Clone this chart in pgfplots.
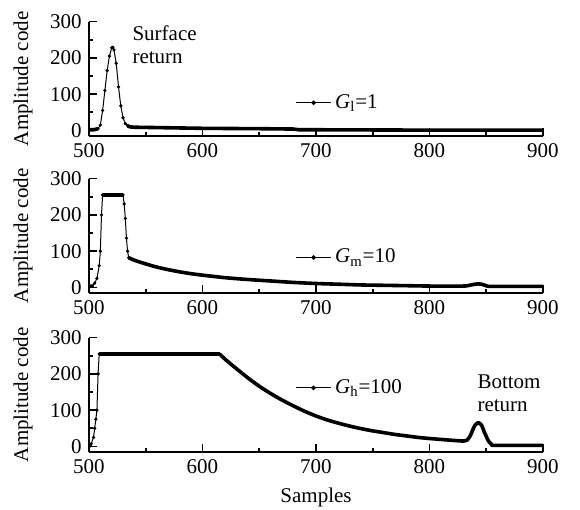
\documentclass[border=0pt]{standalone}
\usepackage{fontspec}
\setmainfont{Liberation Serif}
\usepackage{pgfplots}
\pgfplotsset{compat=1.18}
\pgfplotsset{
  panel/.style={
    scale only axis, width=227pt, height=57.2pt,
    xmin=500, xmax=900, ymin=-15, ymax=300,
    axis x line=bottom, axis y line=left,
    axis line style={-, line width=0.9pt},
    xtick={500,600,...,900}, minor xtick={550,650,750,850},
    ytick={0,100,200,300}, minor ytick={50,150,250},
    tick align=inside,
    major tick length=4pt, minor tick length=2pt,
    every tick/.style={black, line width=0.9pt},
    /pgf/number format/assume math mode=true,
    /pgf/number format/1000 sep={},
    tick label style={font=\fontsize{10.5}{12}\selectfont},
    ylabel={Amplitude code},
    ylabel style={at={(axis description cs:-0.145,0.5)}, anchor=center, font=\fontsize{10.5}{12}\selectfont},
    clip=false,
    legend style={draw=none, fill=none, anchor=west, inner sep=0pt,
      font=\fontsize{10.5}{12}\selectfont},
  },
  thin/.style={black, line width=0.5pt, mark=*, mark size=0.55pt, forget plot},
  thick/.style={black, line width=1.8pt, line join=round, no marks, forget plot},
}
\begin{document}
\fontsize{10.5}{11.5}\selectfont
\begin{tikzpicture}
\path[use as bounding box] (0,0) rectangle (290pt,255pt);
% Panel 1
\begin{axis}[panel, at={(44.5pt,189.75pt)}, anchor=origin,
  legend style={at={(axis description cs:0.455,0.29)}}]
\addplot[thick] coordinates {(500,2) (504,2) (508,5)};
\addplot[thin] coordinates {(508,5) (510,15) (512,55) (514,110) (516,165) (518,205) (520,228) (521,229) (522,222) (524,185) (526,120) (528,68) (530,35) (532,19) (534,13)};
\addplot[thick] coordinates {(534,13) (536,10) (540,9) (560,8) (600,6) (650,5) (680,4) (685,2) (700,2) (800,1) (900,1)};
\addlegendimage{black, line width=0.5pt, mark=*, mark size=0.9pt}
\addlegendentry{\textit{G}\textsubscript{l}=1}
\node[anchor=north west, align=left, inner sep=0pt, font=\fontsize{10.5}{11.5}\selectfont] at (axis cs:538,290) {Surface\\return};
\end{axis}
% Panel 2
\begin{axis}[panel, at={(44.5pt,111.25pt)}, anchor=origin,
  legend style={at={(axis description cs:0.455,0.31)}}]
\addplot[thick] coordinates {(500,3) (503,4)};
\addplot[thin] coordinates {(503,4) (505,12) (507,25) (509,60) (510,100) (511,200) (512,255)};
\addplot[thick] coordinates {(512,255) (530,255)};
\addplot[thin] coordinates {(530,255) (531,230) (532,190) (533,136) (534,100) (535,82)};
\addplot[thick, smooth, tension=0.4] coordinates {(535,82) (540,75) (550,65) (560,56) (570,49) (580,43) (590,38) (600,34) (620,27) (640,22) (660,18) (680,14) (700,11) (720,9) (740,7) (760,6) (780,5) (800,4) (830,4) (835,6) (840,9) (843,10) (846,9) (850,5) (855,3) (900,3)};
\addlegendimage{black, line width=0.5pt, mark=*, mark size=0.9pt}
\addlegendentry{\textit{G}\textsubscript{m}=10}
\end{axis}
% Panel 3
\begin{axis}[panel, at={(44.5pt,31.75pt)}, anchor=origin,
  xlabel={Samples}, xlabel style={font=\fontsize{10.5}{12}\selectfont},
  legend style={at={(axis description cs:0.455,0.56)}}]
\addplot[thick] coordinates {(500,1) (501,3)};
\addplot[thin] coordinates {(501,3) (502,8) (504,25) (505,50) (506,75) (507,100) (508,200) (509,255)};
\addplot[thick] coordinates {(509,255) (615,255)};
\addplot[thick, smooth, tension=0.4] coordinates {(615,255) (620,240) (630,214) (640,189) (650,166) (660,146) (670,128) (680,112) (690,97) (700,84) (710,73) (720,64) (730,56) (740,49) (750,43) (760,38) (770,33) (780,29) (790,25) (800,22) (810,19.5) (820,17) (830,15) (833,17) (836,30) (838,45) (840,58) (843,66) (846,58) (848,42) (850,28) (852,15) (855,5) (858,3) (900,3)};
\addlegendimage{black, line width=0.5pt, mark=*, mark size=0.9pt}
\addlegendentry{\textit{G}\textsubscript{h}=100}
\node[anchor=north west, align=left, inner sep=0pt, font=\fontsize{10.5}{11.5}\selectfont] at (axis cs:842,198) {Bottom\\return};
\end{axis}
\end{tikzpicture}
\end{document}
